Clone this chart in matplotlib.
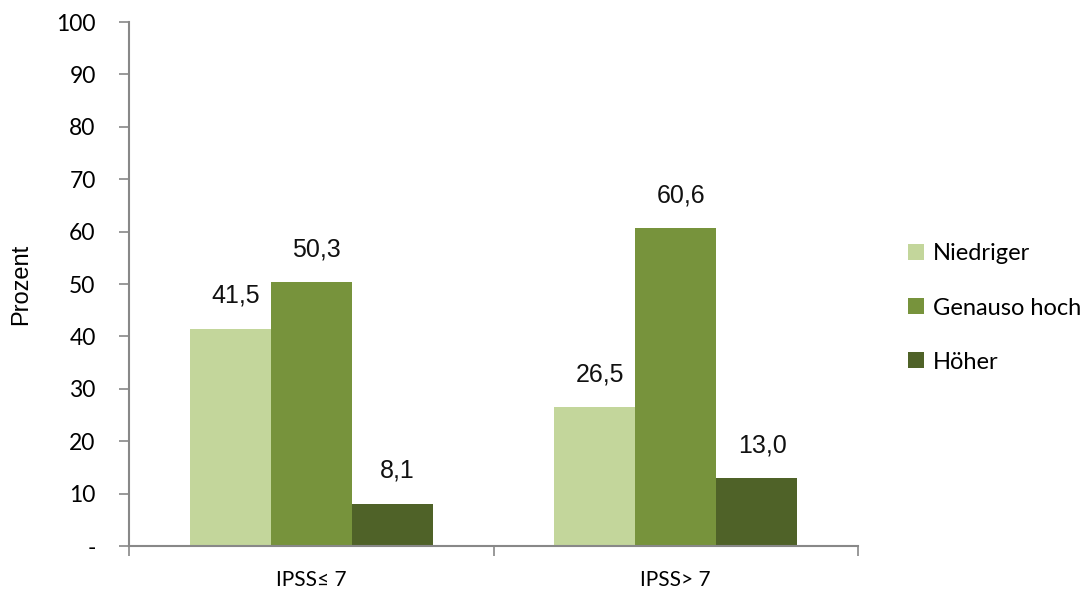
import matplotlib.pyplot as plt
import numpy as np

groups = ["IPSS\u2264 7", "IPSS> 7"]
series = ["Niedriger", "Genauso hoch", "H\u00f6her"]
niedriger = [41.5, 26.5]
genauso = [50.3, 60.6]
hoeher = [8.1, 13.0]
colors = ["#C3D69B", "#77933C", "#4F6228"]

fig = plt.figure(figsize=(10.82, 5.97), dpi=100)
ax = fig.add_axes([0.1192, 0.0854, 0.6738, 0.8777])

x = np.arange(len(groups))
w = 0.222
for i, (vals, name) in enumerate(zip([niedriger, genauso, hoeher], series)):
    bars = ax.bar(x + (i - 1) * w, vals, w, color=colors[i], label=name)
    for b, v in zip(bars, vals):
        ax.annotate(f"{v:.1f}".replace(".", ","),
                    (b.get_x() + b.get_width() / 2, v),
                    xytext=(4, 15), textcoords="offset points",
                    ha="center", va="bottom", fontsize=18,
                    family="Liberation Sans", color="#111111")

ax.set_xlim(-0.5, 1.5)
ax.set_ylim(0, 100)
ax.set_yticks(range(0, 101, 10))
ax.set_yticklabels(["-"] + [str(v) for v in range(10, 101, 10)],
                   family=["Lato", "DejaVu Sans"], fontsize=16.5)
ax.set_xticks(x)
ax.set_xticklabels(groups, family=["Lato", "DejaVu Sans"], fontsize=15)
ax.set_xticks([-0.5, 0.5, 1.5], minor=True)
ax.tick_params(axis="x", which="major", length=0, pad=17)
ax.tick_params(axis="x", which="minor", length=7, color="#888888", width=1.2, direction="out")
ax.tick_params(axis="y", length=7, color="#888888", width=1.2, pad=17)

for s in ["top", "right"]:
    ax.spines[s].set_visible(False)
for s in ["left", "bottom"]:
    ax.spines[s].set_color("#888888")
    ax.spines[s].set_linewidth(1.5)

ax.set_ylabel("Prozent", family="Liberation Sans", fontsize=17)
ax.yaxis.set_label_coords(-0.133, 0.5)

ax.legend(loc="center left", bbox_to_anchor=(0.82, 0.484), bbox_transform=fig.transFigure,
          frameon=False, prop={"family": "Lato", "size": 17},
          handlelength=0.65, handleheight=0.65, handletextpad=0.4, labelspacing=1.4)

fig.savefig("out.png", dpi=100)
